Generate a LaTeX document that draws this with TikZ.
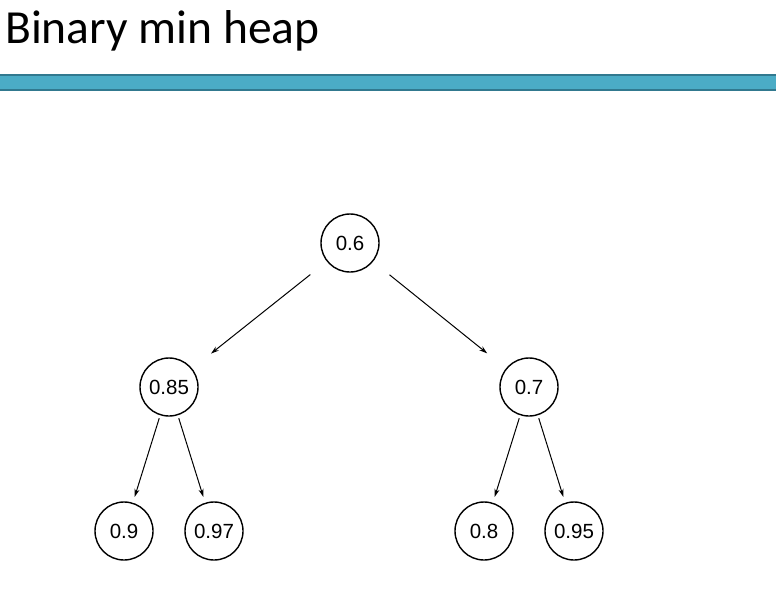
\documentclass[tikz,border=0pt]{standalone}
\usepackage{fontspec}
\setmainfont{Liberation Sans}
\newfontfamily\titlefont{Carlito}
\usetikzlibrary{positioning,arrows.meta}
\definecolor{baraqua}{HTML}{4BACC6}
\definecolor{baredge}{HTML}{31798F}

\begin{document}
\begin{tikzpicture}[x=1pt, y=-1pt,
    heapnode/.style={circle, draw, line width=1.4pt, minimum size=58pt, inner sep=0pt, font=\fontsize{20.5}{22}\selectfont},
    link/.style={-{Stealth[length=8pt,width=5pt]}, line width=1pt}
]
    \useasboundingbox (0,0) rectangle (776,606);
    % title and bar
    \node[anchor=base west, inner sep=0pt, font=\titlefont\fontsize{47.5}{50}\selectfont] (title) at (5,43) {Binary min heap};
    \draw[baredge, line width=2pt, fill=baraqua] (-2,75) rectangle (778,90);

    % heap
    \node[heapnode] (r) at (350,243) {0.6};
    \node[heapnode] (a) at (169,387) {0.85};
    \node[heapnode] (b) at (529,387) {0.7};
    \node[heapnode] (aa) at (124,531) {0.9};
    \node[heapnode] (ab) at (214,531) {0.97};
    \node[heapnode] (ba) at (484,531) {0.8};
    \node[heapnode] (bb) at (574,531) {0.95};

    \draw[link, shorten <=21pt, shorten >=24pt] (r) -- (a);
    \draw[link, shorten <=21pt, shorten >=24pt] (r) -- (b);
    \foreach \p/\c in {a/aa, a/ab, b/ba, b/bb}
        \draw[link, shorten <=3pt, shorten >=6pt] (\p) -- (\c);
\end{tikzpicture}
\end{document}
